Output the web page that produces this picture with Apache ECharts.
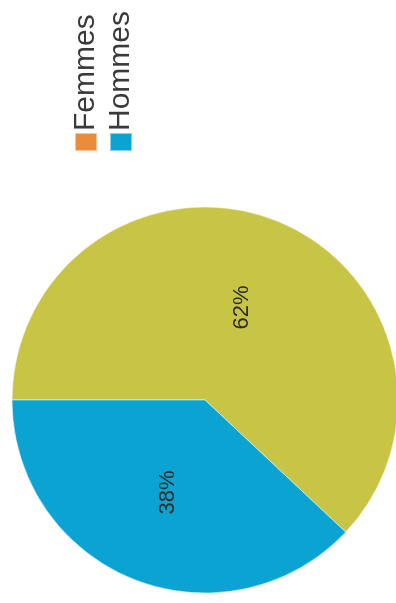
<!DOCTYPE html>
<html>
<head>
<meta charset="utf-8">
<script src="https://cdn.jsdelivr.net/npm/echarts@6/dist/echarts.min.js"></script>
<style>
  html, body { margin: 0; padding: 0; background: #fff; overflow: hidden; }
  /* chart is laid out landscape, then turned a quarter turn counter-clockwise */
  #chart {
    position: absolute; left: 0; top: 0;
    width: 603px; height: 396px;
    transform-origin: 0 0;
    transform: translate(0, 603px) rotate(-90deg);
  }
</style>
</head>
<body>
<div id="chart"></div>
<script>
// Gender split
const categories = ['Femmes', 'Hommes'];
const shares = [62, 38];
const sliceColors = ['#c8c446', '#0ba4d2'];
const legendColors = ['#ec8c3a', '#0ba4d2'];

const chart = echarts.init(document.getElementById('chart'), null, { renderer: 'canvas' });

const data = categories.map((name, i) => ({
  name,
  value: shares[i],
  itemStyle: { color: sliceColors[i] }
}));

chart.setOption({
  animation: false,
  legend: {
    orient: 'vertical',
    left: 446,
    top: 66,
    itemWidth: 18,
    itemHeight: 22,
    itemGap: 5,
    icon: 'rect',
    textStyle: {
      fontFamily: 'Liberation Sans, Arial, sans-serif',
      fontSize: 30,
      lineHeight: 30,
      color: '#3a3a3a',
      padding: [0, 0, 0, -3]
    },
    data: categories.map((name, i) => ({
      name,
      itemStyle: { color: legendColors[i] }
    }))
  },
  series: [{
    type: 'pie',
    center: [203, 205],
    radius: 193,
    startAngle: 90,
    clockwise: true,
    label: {
      show: true,
      position: 'inside',
      formatter: '{c}%',
      fontFamily: 'Liberation Sans, Arial, sans-serif',
      fontSize: 22,
      color: '#2b2b2b'
    },
    labelLine: { show: false },
    itemStyle: { borderColor: 'rgba(255,255,255,0.5)', borderWidth: 1 },
    emphasis: { disabled: true },
    data
  }]
});
</script>
</body>
</html>
